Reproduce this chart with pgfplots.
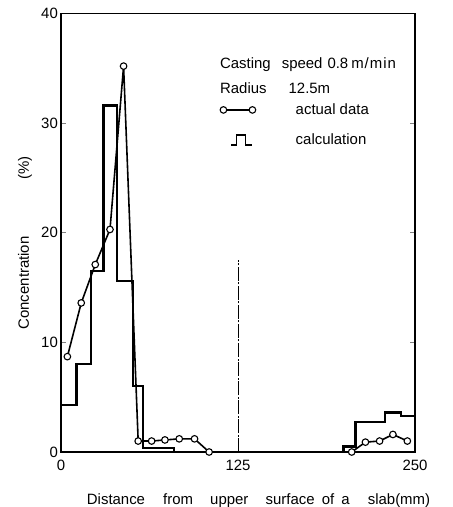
\documentclass[border=0pt]{standalone}
\usepackage{fontspec}
\setmainfont{Liberation Sans}
\usepackage{pgfplots}
\pgfplotsset{compat=1.18}
\pgfplotsset{
  pulselegend/.style={legend image code/.code={\draw[black, line width=1.6pt] (8bp,-5bp)--(13bp,-5bp)--(13bp,5bp)--(22bp,5bp)--(22bp,-5bp)--(29bp,-5bp);}},
  circlegend/.style={legend image code/.code={\draw[##1] plot coordinates {(0bp,0bp) (29bp,0bp)};}},
}
\begin{document}
\fontsize{15}{18}\selectfont
\begin{tikzpicture}
\begin{axis}[
  scale only axis, width=354bp, height=438.5bp,
  xmin=0, xmax=250, ymin=0, ymax=40,
  xtick={0,125,250}, ytick={0,10,20,30,40},
  tick align=inside, major tick length=5bp,
  xtick style={draw=none},
  ytick style={line width=1.2pt},
  axis line style={line width=1.5pt},
  /pgf/number format/assume math mode=true,
  ticklabel style={font=\fontsize{15}{18}\selectfont},
  yticklabel style={xshift=2bp},
  xticklabel style={yshift=-3bp},
  clip=false,
  ylabel={Concentration\hspace{57bp}(\%)},
  ylabel style={at={(axis description cs:-0.102,0.477)}, anchor=center},
  xlabel={Distance\hspace{14bp} from\hspace{13bp} upper\hspace{13bp} surface\hspace{3bp} of\hspace{3bp} a\hspace{14bp} slab(mm)},
  xlabel style={at={(axis description cs:0.558,-0.11)}, anchor=center},
  legend style={draw=none, fill=none, at={(rel axis cs:0.449,0.800)}, anchor=north west,
    inner sep=0pt, row sep=13bp, font=\fontsize{15}{18}\selectfont},
  legend cell align=left,
]
% actual data
\addplot[black, line width=1.6pt, mark=*, mark size=3.3bp, mark options={fill=white, line width=1.1pt}, circlegend]
  coordinates {(4.5,8.7) (14.3,13.6) (24.2,17.1) (34.6,20.3) (44.2,35.2) (54.5,1.0) (64,1.0) (73.4,1.1) (83.5,1.2) (94.3,1.2) (104.6,0)};
% calculation (step)
\addplot[black, line width=2.2pt, const plot mark left, mark=none, pulselegend]
  coordinates {(0,0) (0,4.3) (11,8.0) (21,16.5) (30,31.6) (39.5,15.6) (51,6.0) (58,0.35) (80,0) (199.5,0.5) (208,2.7) (229,3.6) (240,3.3) (250,3.3)};
\addplot[black, line width=1.6pt, mark=*, mark size=3.3bp, mark options={fill=white, line width=1.1pt}, forget plot]
  coordinates {(205.3,0) (215,0.9) (225,1.0) (234.4,1.6) (244.6,1.0)};
% centre line
\addplot[black, line width=0.8pt, dash pattern=on 14bp off 1.5bp on 2bp off 1.5bp, forget plot]
  coordinates {(125,0) (125,17.5)};
\legend{\hspace{38bp}actual data, \hspace{38bp}calculation}
\node[anchor=west, inner sep=0pt] at (rel axis cs:0.449,0.8826) {Casting\hspace{11bp}speed\hspace{5bp}0.8\hspace{3bp}m\hspace{1bp}/\hspace{1bp}m\hspace{1bp}i\hspace{1bp}n};
\node[anchor=west, inner sep=0pt] at (rel axis cs:0.449,0.830) {Radius\hspace{22bp}12.5m};
\coordinate (ll) at (rel axis cs:0,0);
\coordinate (ur) at (rel axis cs:1,1);
\end{axis}
\pgfresetboundingbox
\path[use as bounding box] ([shift={(-61bp,-55bp)}]ll) rectangle ([shift={(38bp,13.5bp)}]ur);
\end{tikzpicture}
\end{document}
